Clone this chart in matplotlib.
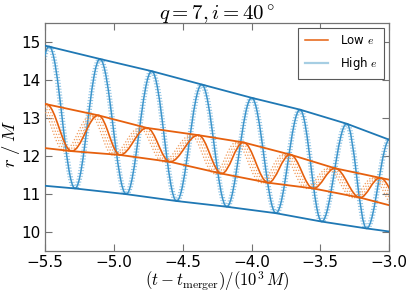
import matplotlib
matplotlib.use("Agg")
import matplotlib.pyplot as plt
from matplotlib.path import Path
from matplotlib.patches import PathPatch
from matplotlib.lines import Line2D

# ---- data ----
# High-e orbit: successive extrema (time in 10^3 M, r/M)
high_t = [-5.66, -5.47, -5.282, -5.101, -4.910, -4.725, -4.544, -4.362, -4.180,
          -3.999, -3.822, -3.648, -3.490, -3.309, -3.164, -2.995, -2.84]
high_r = [11.27, 14.88, 11.15, 14.55, 11.00, 14.23, 10.82, 13.88, 10.67,
          13.53, 10.50, 13.22, 10.28, 12.85, 10.10, 12.45, 9.95]
# Low-e orbit: successive extrema
low_t = [-5.69, -5.49, -5.306, -5.113, -4.955, -4.76, -4.592, -4.387, -4.217,
         -4.06, -3.878, -3.72, -3.551, -3.394, -3.212, -3.067, -2.90]
low_r = [12.25, 13.36, 12.13, 13.07, 12.03, 12.74, 11.85, 12.55, 11.54,
         12.36, 11.30, 12.04, 11.15, 11.68, 10.91, 11.43, 10.65]

# envelopes
blue_up_t = [-5.5, -5.101, -4.725, -4.362, -3.999, -3.648, -3.309, -3.0]
blue_up_r = [14.90, 14.55, 14.23, 13.88, 13.53, 13.22, 12.85, 12.43]
blue_lo_t = [-5.5, -5.282, -4.910, -4.544, -4.180, -3.822, -3.490, -3.164, -3.0]
blue_lo_r = [11.22, 11.15, 11.00, 10.82, 10.67, 10.50, 10.28, 10.10, 10.02]
orange_up_t = [-5.5, -5.113, -4.76, -4.387, -4.06, -3.72, -3.394, -3.067, -3.0]
orange_up_r = [13.37, 13.07, 12.74, 12.55, 12.36, 12.04, 11.68, 11.43, 11.38]
orange_lo_t = [-5.5, -5.306, -4.955, -4.592, -4.217, -3.878, -3.551, -3.212, -3.0]
orange_lo_r = [12.21, 12.13, 12.03, 11.85, 11.54, 11.30, 11.15, 10.91, 10.71]

# time offsets of the dotted companion curves
high_offsets = [-0.016, -0.008, 0.008, 0.016]
low_offsets = [-0.018, -0.036, -0.054]

title = r"$q = 7, i = 40^\circ$"
xlabel = r"$(t - t_{\rm merger})/(10^3\,M)$"
ylabel = r"$r\;/\;M$"
legend_labels = [r"Low $e$", r"High $e$"]

# ---- styling ----
plt.rcParams["mathtext.fontset"] = "cm"
plt.rcParams["font.family"] = ["DejaVu Sans"]

C_BLUE_ENV = "#1f78b4"
C_BLUE = "#3b94cb"
C_BLUE_DOT = "#8cc2e4"
C_BLUE_LEG = "#a6cee3"
C_ORANGE = "#e6600e"
C_ORANGE_DOT = "#f09a5a"

K = 0.364  # bezier handle fraction for a smooth half-wave between extrema


def wave_path(ts, rs, shift=0.0):
    verts = [(ts[0] + shift, rs[0])]
    codes = [Path.MOVETO]
    for i in range(len(ts) - 1):
        t0, r0 = ts[i] + shift, rs[i]
        t1, r1 = ts[i + 1] + shift, rs[i + 1]
        d = t1 - t0
        verts += [(t0 + K * d, r0), (t1 - K * d, r1), (t1, r1)]
        codes += [Path.CURVE4] * 3
    return Path(verts, codes)


fig = plt.figure(figsize=(4.11, 2.96), dpi=100)
ax = fig.add_axes([0.1095, 0.151, 0.8375, 0.772])

# High e
for off in high_offsets:
    ax.add_patch(PathPatch(wave_path(high_t, high_r, off), fill=False,
                           edgecolor=C_BLUE_DOT, lw=0.8, linestyle=":", zorder=2))
ax.add_patch(PathPatch(wave_path(high_t, high_r), fill=False,
                       edgecolor=C_BLUE, lw=1.1, zorder=3))
# Low e
for off in low_offsets:
    ax.add_patch(PathPatch(wave_path(low_t, low_r, off), fill=False,
                           edgecolor=C_ORANGE_DOT, lw=0.9, linestyle=":", zorder=4))
ax.add_patch(PathPatch(wave_path(low_t, low_r), fill=False,
                       edgecolor=C_ORANGE, lw=1.2, zorder=5))

ax.plot(blue_up_t, blue_up_r, color=C_BLUE_ENV, lw=1.3, zorder=6)
ax.plot(blue_lo_t, blue_lo_r, color=C_BLUE_ENV, lw=1.3, zorder=6)
ax.plot(orange_up_t, orange_up_r, color=C_ORANGE, lw=1.3, zorder=6)
ax.plot(orange_lo_t, orange_lo_r, color=C_ORANGE, lw=1.3, zorder=6)

ax.set_xlim(-5.5, -3.0)
ax.set_ylim(9.5, 15.5)
ax.set_xticks([-5.5, -5.0, -4.5, -4.0, -3.5, -3.0])
ax.set_yticks([10, 11, 12, 13, 14, 15])
ax.tick_params(direction="in", top=True, right=True, length=5, width=0.8,
               labelsize=11, color="0.45")
ax.tick_params(axis="y", pad=3)
ax.tick_params(axis="x", pad=3)
for s in ax.spines.values():
    s.set_color("0.45")
    s.set_linewidth(0.9)

ax.set_title(title, fontsize=15, pad=2)
ax.set_xlabel(xlabel, fontsize=12)
ax.set_ylabel(ylabel, fontsize=13.5)
ax.xaxis.set_label_coords(0.5, -0.08)
ax.yaxis.set_label_coords(-0.066, 0.47)

handles = [Line2D([], [], color=C_ORANGE, lw=1.1),
           Line2D([], [], color=C_BLUE_LEG, lw=1.6)]
leg = ax.legend(handles, legend_labels, loc="upper right", fontsize=8.5,
                fancybox=False, framealpha=1, edgecolor="0.35",
                handlelength=2.0, borderpad=0.55, labelspacing=0.7,
                borderaxespad=0.4, handletextpad=1.0)
leg.get_frame().set_linewidth(0.8)

fig.savefig("out.png", dpi=100)
